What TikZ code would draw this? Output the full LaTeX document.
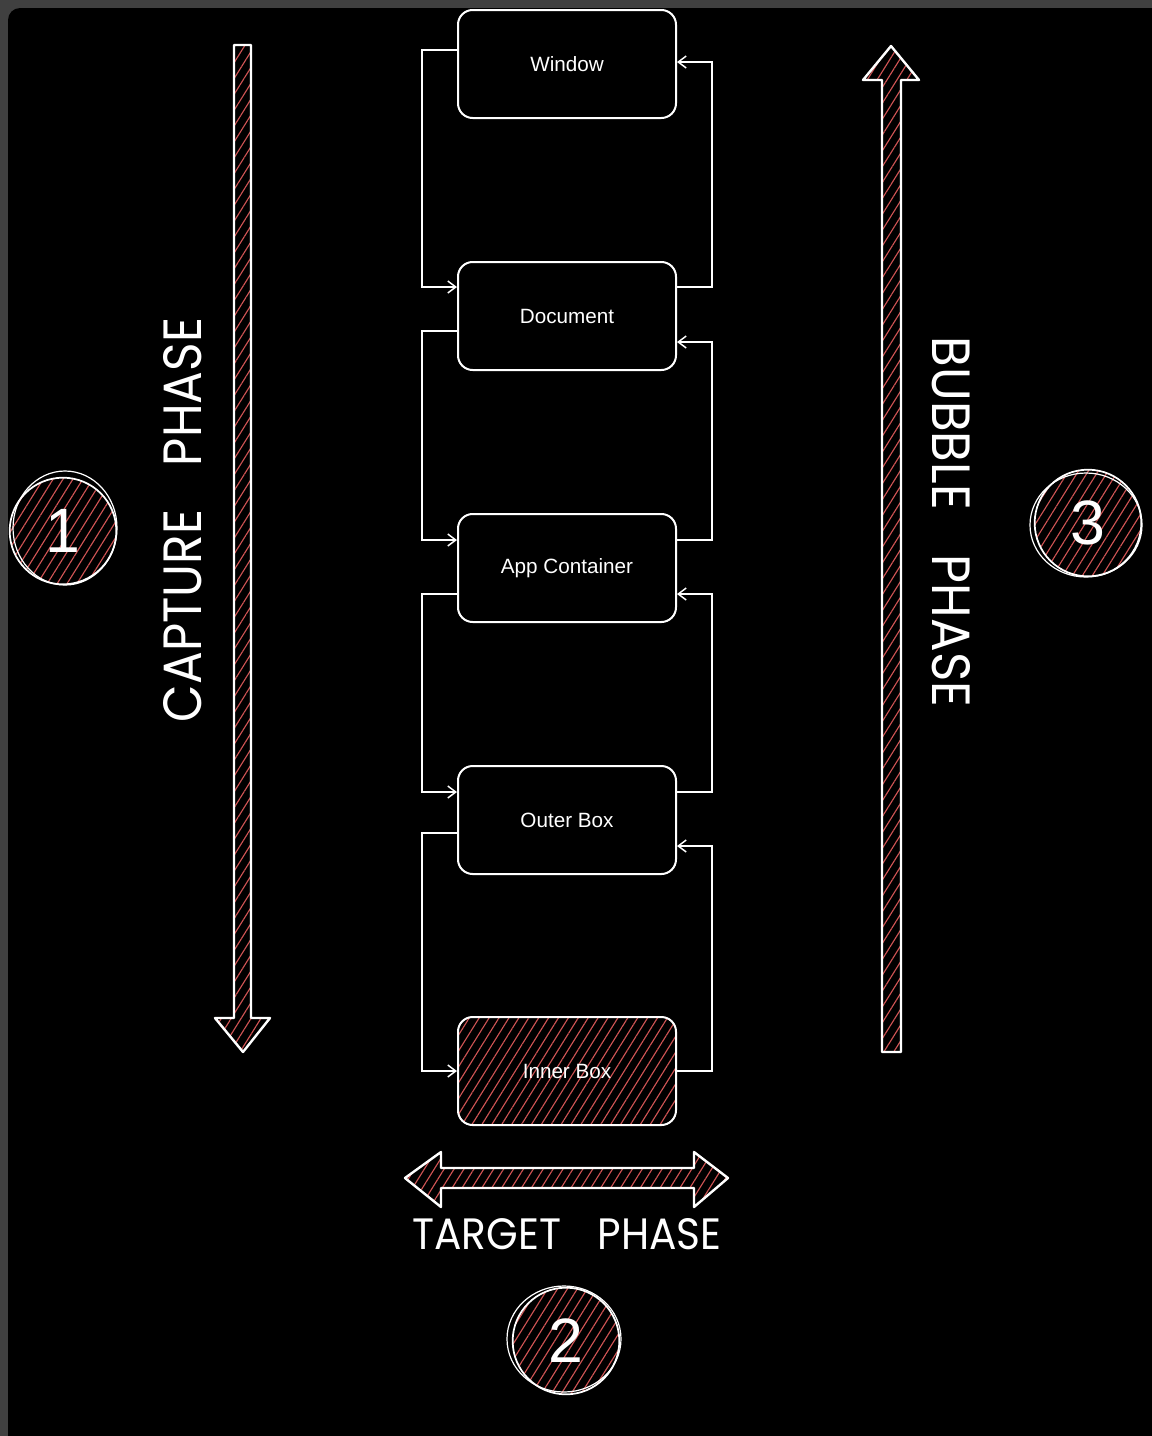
\documentclass[tikz,border=0pt]{standalone}
\usepackage{fontspec}
\setmainfont{Liberation Sans}
\newfontfamily\hand{Poppins}
\usepackage{graphicx}
\usetikzlibrary{patterns.meta,arrows.meta,calc}
\definecolor{hatch}{RGB}{206,84,84}
\definecolor{frame}{RGB}{64,64,64}
\begin{document}
\begin{tikzpicture}[x=0.75pt,y=-0.75pt,
  hatchfill/.style={pattern={Lines[angle=58,distance=6.3pt,line width=0.85pt]}, pattern color=hatch},
  box/.style={draw=white, line width=1.5pt, rounded corners=11pt, minimum width=163.5pt, minimum height=81pt, text=white, font=\fontsize{15.5}{18}\selectfont, inner sep=0pt},
  conn/.style={draw=white, line width=1.1pt, -{Straight Barb[length=6pt,width=9pt,line width=1.1pt]}},
  bigarrow/.style={draw=white, line width=1.8pt, line join=round, hatchfill},
  circ/.style={circle, draw=white, line width=1.3pt, minimum size=80pt, hatchfill, text=white, font=\fontsize{47}{50}\selectfont, inner sep=0pt},
  sketch/.style={draw=white, line width=0.9pt},
  phase/.style={text=white, inner sep=0pt}
]
\clip (0,0) rectangle (1152,1436);
\fill[frame] (0,0) rectangle (1152,1436);
\fill[black, rounded corners=9pt] (8,8) rectangle (1190,1480);

% big arrows
\draw[bigarrow] (234,45) -- (251,45) -- (251,1018) -- (270,1018) -- (243,1052) -- (215,1018) -- (234,1018) -- cycle;
\draw[bigarrow] (882,1052) -- (901,1052) -- (901,80) -- (919,80) -- (891,46) -- (863,80) -- (882,80) -- cycle;
\draw[bigarrow] (441,1168) -- (694,1168) -- (694,1152) -- (728,1178) -- (694,1207) -- (694,1188) -- (441,1188) -- (441,1207) -- (405,1178) -- (441,1152) -- cycle;

% boxes
\node[box] (win) at (567,64) {Window};
\node[box] (doc) at (567,316) {Document};
\node[box] (app) at (567,568) {App Container};
\node[box] (out) at (567,820) {Outer Box};
\node[box, hatchfill] (inn) at (567,1071) {Inner Box};

% capture connectors (left)
\draw[conn] ($(win.west)+(0,-14)$) -- ++(-35,0) |- ($(doc.west)+(0,-29)$);
\draw[conn] ($(doc.west)+(0,15)$) -- ++(-35,0) |- ($(app.west)+(0,-28)$);
\draw[conn] ($(app.west)+(0,26)$) -- ++(-35,0) |- ($(out.west)+(0,-28)$);
\draw[conn] ($(out.west)+(0,13)$) -- ++(-35,0) |- (inn.west);
% bubble connectors (right)
\draw[conn] (inn.east) -- ++(35,0) |- ($(out.east)+(0,26)$);
\draw[conn] ($(out.east)+(0,-28)$) -- ++(35,0) |- ($(app.east)+(0,26)$);
\draw[conn] ($(app.east)+(0,-28)$) -- ++(35,0) |- ($(doc.east)+(0,26)$);
\draw[conn] ($(doc.east)+(0,-29)$) -- ++(35,0) |- ($(win.east)+(0,-2)$);

% circles
\node[circ] (one) at (63,531) {1};
\draw[sketch] (65,528) ellipse [x radius=52, y radius=57];
\node[circ] (two) at (566,1341) {2};
\draw[sketch] (564,1339) ellipse [x radius=57, y radius=53];
\node[circ] (three) at (1088,523) {3};
\draw[sketch] (1086,525) ellipse [x radius=56, y radius=52];

% phase labels
\node[phase, rotate=90] (cap) at (183,520) {\resizebox{303pt}{28.5pt}{\hand CAPTURE\hspace{0.9em}PHASE}};
\node[phase, rotate=-90] (bub) at (951,522) {\resizebox{277.5pt}{28.5pt}{\hand BUBBLE\hspace{0.9em}PHASE}};
\node[phase] (tgt) at (567,1234) {\resizebox{231.75pt}{23.25pt}{\hand TARGET\hspace{0.9em}PHASE}};
\end{tikzpicture}
\end{document}
